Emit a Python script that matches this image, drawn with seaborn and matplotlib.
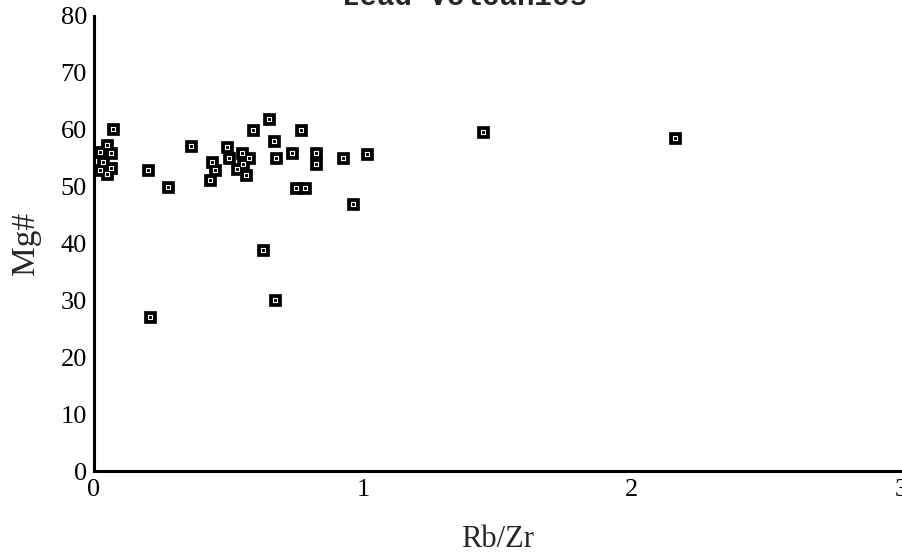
import matplotlib
matplotlib.use("Agg")
import matplotlib.pyplot as plt
from matplotlib.ticker import MultipleLocator
import seaborn as sns
import pandas as pd

rb_zr = [0.072, 0.047, 0.024, 0.062, 0.032, 0.022, 0.062, 0.047,
         0.202, 0.274, 0.361, 0.493, 0.502, 0.440, 0.450, 0.431,
         0.549, 0.577, 0.555, 0.530, 0.565, 0.590, 0.652, 0.669,
         0.675, 0.737, 0.768, 0.824, 0.824, 0.751, 0.784, 0.927,
         1.016, 0.962, 0.208, 0.627, 0.673, 1.445, 2.160]
mg_num = [60.2, 57.3, 56.1, 56.0, 54.3, 53.0, 53.2, 52.2,
          53.0, 49.9, 57.2, 57.0, 55.1, 54.3, 53.0, 51.1,
          55.9, 55.1, 54.0, 53.1, 52.1, 60.0, 61.9, 58.1,
          55.1, 55.9, 60.0, 55.9, 53.9, 49.8, 49.8, 55.0,
          55.7, 47.0, 27.1, 38.8, 30.0, 59.6, 58.5]

title = "Lead Volcanics"
x_label = "Rb/Zr"
y_label = "Mg#"
x_ticks = [0, 1, 2, 3]
y_ticks = [0, 10, 20, 30, 40, 50, 60, 70, 80]

df = pd.DataFrame({"Rb/Zr": rb_zr, "Mg#": mg_num})

sns.set_theme(style="white")
plt.rcParams["font.family"] = ["Liberation Serif", "DejaVu Serif"]

fig = plt.figure(figsize=(9.02, 5.58), dpi=100)
ax = fig.add_axes([94 / 902, 1 - 471 / 558, (901 - 94) / 902, (471 - 16) / 558])

sns.scatterplot(data=df, x="Rb/Zr", y="Mg#", ax=ax, marker="s", s=72,
                color="black", edgecolor="black", linewidth=0.5, zorder=3,
                clip_on=False)
sns.scatterplot(data=df, x="Rb/Zr", y="Mg#", ax=ax, marker="s", s=8,
                facecolor="black", edgecolor="white", linewidth=0.8, zorder=4,
                clip_on=False)

ax.set_xlim(0, 3)
ax.set_ylim(0, 80)
ax.set_xticks(x_ticks)
ax.set_yticks(y_ticks)
ax.xaxis.set_minor_locator(MultipleLocator(0.5))
ax.yaxis.set_minor_locator(MultipleLocator(5))

for side in ["top", "right"]:
    ax.spines[side].set_visible(False)
for side in ["left", "bottom"]:
    ax.spines[side].set_linewidth(2.2)
    ax.spines[side].set_color("black")

ax.tick_params(axis="both", which="major", direction="in", length=7, width=2,
               colors="black", labelsize=19)
ax.tick_params(axis="both", which="minor", direction="in", length=4, width=1.8,
               colors="black")
ax.tick_params(axis="y", which="major", pad=5)
ax.tick_params(axis="x", which="major", pad=6)

ax.set_xlabel(x_label, fontsize=22, labelpad=17)
ax.set_ylabel(y_label, fontsize=24, labelpad=14)
ax.grid(False)

fig.text(465 / 902, 1 - 5 / 558, title, ha="center", va="baseline",
         fontsize=21, fontweight="bold", family=["Liberation Mono", "DejaVu Sans Mono"])

fig.savefig("out.png", dpi=100, facecolor="white")
